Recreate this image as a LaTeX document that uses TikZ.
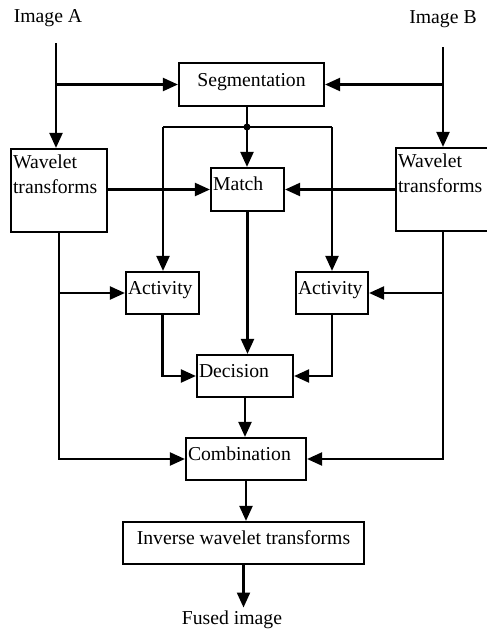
\documentclass[tikz,border=0pt]{standalone}
\usepackage{fontspec}
\setmainfont{Liberation Serif}
\usetikzlibrary{arrows.meta, positioning, calc}

\begin{document}
\begin{tikzpicture}[x=1pt, y=-1pt,
            font=\fontsize{19.7}{25}\selectfont,
            box/.style={draw=black, line width=2.2pt, inner xsep=2pt, inner ysep=0pt, text height=14pt, text depth=12pt},
            lbox/.style={box, align=left},
            ar/.style={line width=2.2pt, -{Triangle[length=15pt, width=13pt]}},
            ln/.style={line width=2.2pt}]
            \useasboundingbox (0,0) rectangle (487,632);
            \node (imA) at (48,18) {Image A};
            \node (imB) at (443,19) {Image B};
            \node[box, minimum width=145pt, minimum height=43pt, text height=15pt, text depth=11pt] (seg) at (251.5,84.5) {Segmentation};
            \node[lbox, text width=92pt, minimum height=83pt, text height=17pt, text depth=62pt] (wA) at (59,190.5) {Wavelet\\transforms};
            \node[lbox, text width=96pt, minimum height=83pt, text height=17pt, text depth=62pt] (wB) at (446,189.5) {Wavelet\\transforms};
            \node[lbox, text width=69pt, minimum height=43pt] (match) at (247.5,189.5) {Match};
            \node[lbox, text width=69pt, minimum height=42pt] (actA) at (162.5,293) {Activity};
            \node[lbox, text width=68pt, minimum height=42pt] (actB) at (332,293) {Activity};
            \node[lbox, text width=92pt, minimum height=42pt] (dec) at (245,376) {Decision};
            \node[lbox, text width=116pt, minimum height=42pt] (comb) at (246,459) {Combination};
            \node[box, minimum width=241pt, minimum height=42pt] (inv) at (243.5,543) {Inverse wavelet transforms};
            \node (fus) at (232,620) {Fused image};
            \coordinate (a0) at (56,43);
            \coordinate (b0) at (443,47);
            \coordinate (j) at (247,127);
            \coordinate (bl) at (163,127);
            \coordinate (br) at (332,127);
            \draw[ar] (a0) -- (a0 |- wA.north);
            \draw[ar] (a0 |- seg.west) -- (seg.west);
            \draw[ar] (b0) -- (b0 |- wB.north);
            \draw[ar] (b0 |- seg.east) -- (seg.east);
            \draw[ln] (seg.south -| j) -- (j);
            \draw[ln] (bl) -- (br);
            \fill (j) circle (3.5);
            \draw[ar] (j) -- (j |- match.north);
            \draw[ar] (bl) -- (bl |- actA.north);
            \draw[ar] (br) -- (br |- actB.north);
            \draw[ar] (wA.east |- match.west) -- (match.west);
            \draw[ar] (wB.west |- match.east) -- (match.east);
            \draw[ar] (wA.south) |- (comb.west);
            \draw[ar] (wA.south |- actA.west) -- (actA.west);
            \draw[ar] (b0 |- wB.south) |- (comb.east);
            \draw[ar] (b0 |- actB.east) -- (actB.east);
            \draw[ar] (match.south) -- (match.south |- dec.north);
            \draw[ar] (actA.south) |- (dec.west);
            \draw[ar] (actB.south) |- (dec.east);
            \draw[ar] (dec.south) -- (dec.south |- comb.north);
            \draw[ar] (comb.south) -- (comb.south |- inv.north);
            \draw[ar] (inv.south) -- (inv.south |- fus.north);
        \end{tikzpicture}
\end{document}
